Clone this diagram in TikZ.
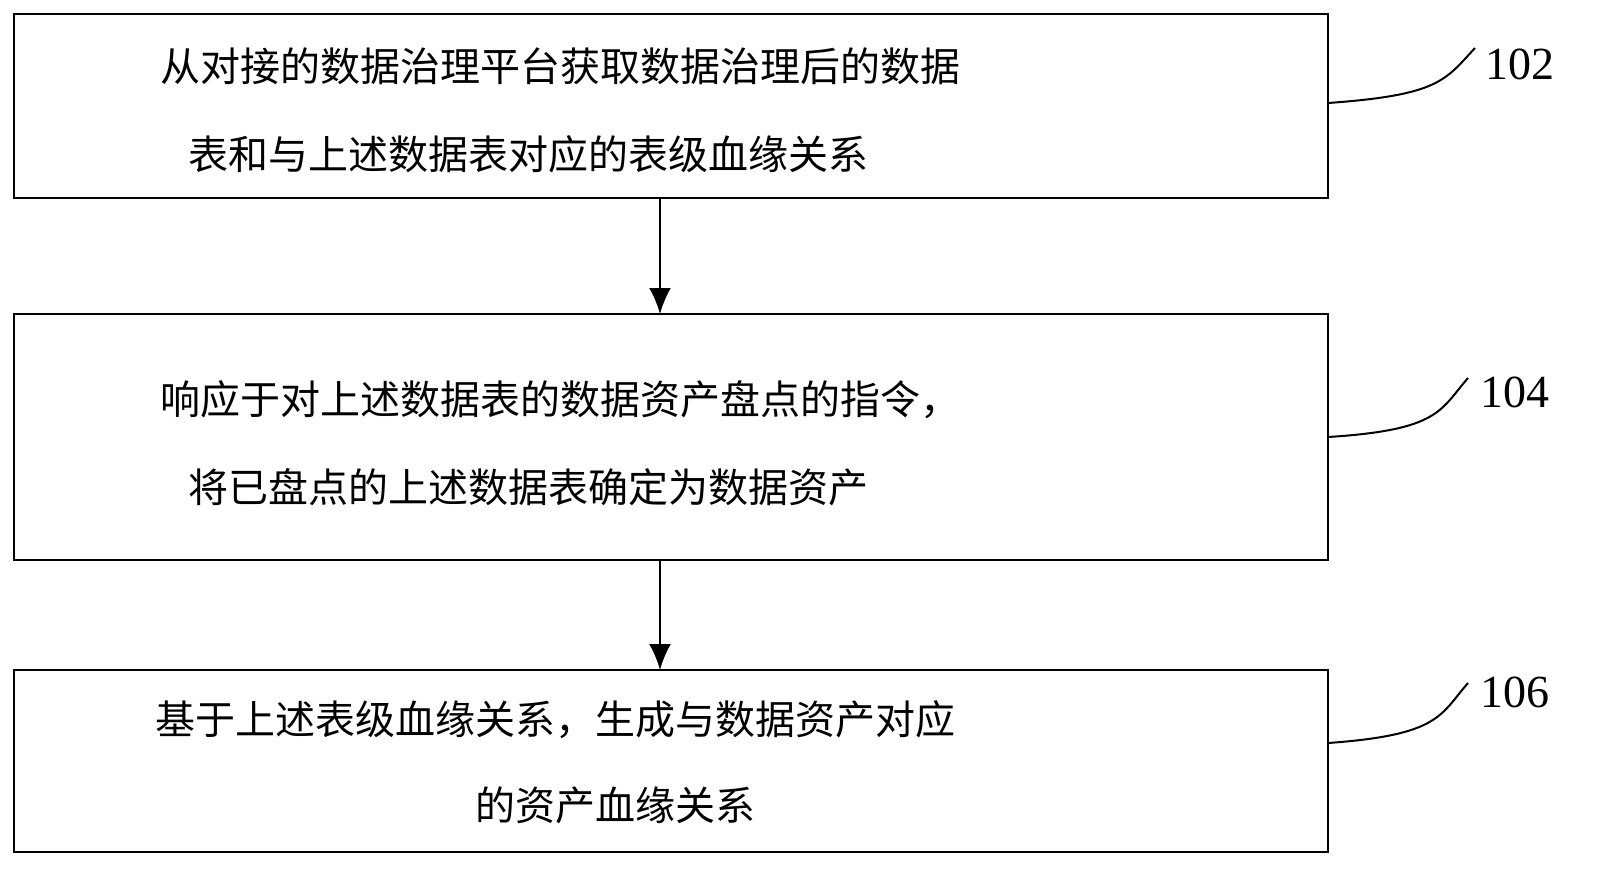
\documentclass[tikz,border=0pt]{standalone}
\usetikzlibrary{arrows.meta}
\usepackage{fontspec}
\newfontfamily\cjk{Noto Sans CJK SC}
\newfontfamily\numf{Liberation Serif}
\XeTeXlinebreaklocale "zh"
\XeTeXlinebreakskip=0pt plus 1fil
\newcommand{\spreadline}[2]{\makebox[#1pt][s]{#2}}
\begin{document}
\begin{tikzpicture}[x=1pt,y=-1pt,
  box/.style={draw,line width=2.2pt},
  txt/.style={anchor=west,inner sep=0,font=\cjk\fontsize{40}{40}\selectfont},
  num/.style={anchor=center,inner sep=0,font=\numf\fontsize{46}{46}\selectfont},
  arr/.style={-{Latex[length=26pt,width=22pt]},line width=2.2pt},
  lead/.style={line width=2pt}]
\useasboundingbox (0,0) rectangle (1600,887);
\draw[box] (14,14) rectangle (1328,198);
\draw[box] (14,314) rectangle (1328,560);
\draw[box] (14,670) rectangle (1328,852);
\coordinate (b1) at (660,198); \coordinate (t2) at (660,314);
\coordinate (b2) at (660,560); \coordinate (t3) at (660,670);
\draw[arr] (b1) -- (t2);
\draw[arr] (b2) -- (t3);
\node[txt] (l11) at (160,66) {\spreadline{1135}{从对接的数据治理平台获取数据治理后的数据}};
\node[txt] (l12) at (188,154) {\spreadline{957}{表和与上述数据表对应的表级血缘关系}};
\node[txt] (l21) at (160,400) {\spreadline{1125}{响应于对上述数据表的数据资产盘点的指令，}};
\node[txt] (l22) at (188,487) {\spreadline{960}{将已盘点的上述数据表确定为数据资产}};
\node[txt] (l31) at (155,720) {\spreadline{1135}{基于上述表级血缘关系，生成与数据资产对应}};
\node[txt] (l32) at (475,805) {\spreadline{383}{的资产血缘关系}};
\node[num] (n1) at (1520,64) {102};
\node[num] (n2) at (1515,392) {104};
\node[num] (n3) at (1515,692) {106};
\coordinate (c1) at (1328,103); \coordinate (c2) at (1328,437); \coordinate (c3) at (1328,743);
\draw[lead] (c1) .. controls (1440,95) and (1445,80) .. (1475,48);
\draw[lead] (c2) .. controls (1440,430) and (1440,410) .. (1468,378);
\draw[lead] (c3) .. controls (1440,735) and (1440,715) .. (1468,683);
\end{tikzpicture}
\end{document}
